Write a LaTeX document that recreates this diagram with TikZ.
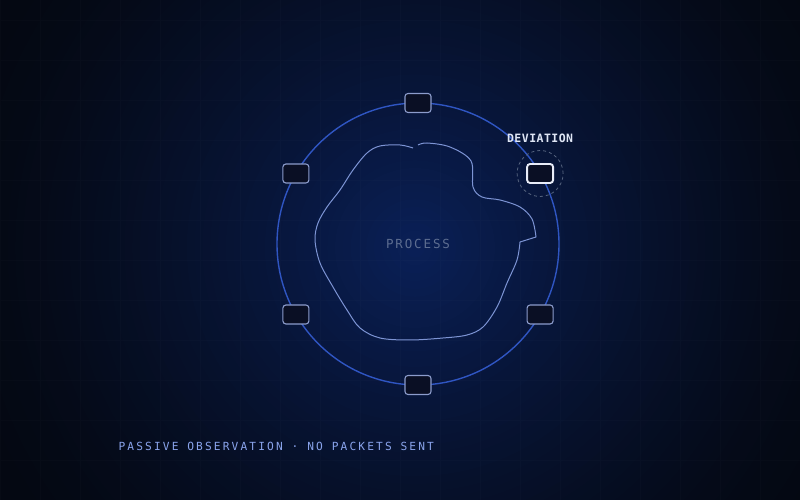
\documentclass[tikz,border=0pt]{standalone}
\usepackage{fontspec}
\setmonofont{DejaVu Sans Mono}
\newfontfamily\labfont[LetterSpace=15]{DejaVu Sans Mono}
\newfontfamily\notefont[LetterSpace=19]{DejaVu Sans Mono}
\newfontfamily\devfont[LetterSpace=4]{DejaVu Sans Mono}
\usepackage{tikz}
\usetikzlibrary{calc}
\usetikzlibrary{positioning}
\definecolor{glowin}{HTML}{0A2058}
\definecolor{glowout}{HTML}{040812}
\definecolor{ringcol}{HTML}{2F55C2}
\definecolor{boxfill}{HTML}{0A0F24}
\definecolor{boxline}{HTML}{8C9CCC}
\definecolor{alertline}{HTML}{E8ECF8}
\definecolor{blobcol}{HTML}{7D94D4}
\definecolor{dimtext}{HTML}{5D6D90}
\definecolor{notetext}{HTML}{8AA4EC}
\definecolor{devtext}{HTML}{DFE6F5}
\definecolor{halocol}{HTML}{56647F}

\begin{document}
\begin{tikzpicture}[
x=1pt,y=1pt,
Ring/.style={draw=ringcol,line width=1.4pt},
Sensor/.style={draw=boxline,fill=boxfill,line width=1.1pt,rounded corners=3pt,minimum width=26pt,minimum height=19pt,inner sep=0pt},
SensorAlert/.style={Sensor,draw=alertline,line width=1.9pt},
Halo/.style={draw=halocol,line width=0.8pt,dash pattern=on 3pt off 3pt},
BlobLine/.style={draw=blobcol,line width=1pt,line join=round},
every node/.style={text=dimtext}
]
\useasboundingbox (0,0) rectangle (800,500);

% background glow
\fill[glowout] (0,0) rectangle (800,500);
\coordinate (G) at (415,252);
\foreach \i in {0,...,59}{
 \pgfmathsetmacro\rr{470-\i*7.8}
 \pgfmathsetmacro\pp{100*(1-\rr/470)^1.4}
 \fill[glowin!\pp!glowout] (G) circle (\rr);
}
\draw[white,opacity=0.015,line width=0.6pt,step=40] (0,0) grid (800,500);

\coordinate (C) at (418,256);

\draw[Ring] (C) circle (141);

% process outline
\draw[BlobLine] plot[smooth,tension=0.55] coordinates {(418,355) (427,357) (450,353) (471,339) (473,313) (482,303) (500,300) (520,293) (532,281) (536,263)}
 -- plot[smooth,tension=0.55] coordinates {(520,258) (517,240) (507,217) (497,193) (483,173) (467,165) (443,162) (410,160) (380,162) (360,172) (347,190) (333,213) (320,237) (315,260) (318,277) (327,293) (340,310) (353,330) (367,347) (380,354) (400,355) (413,352)};

\node[font=\labfont\fontsize{12.5}{14}\selectfont] (proc) at (C) {PROCESS};

% sensors
\foreach \a/\n in {90/top,150/ul,210/ll,330/lr,270/bot}
 \node[Sensor] (s\n) at ([shift={(\a:141)}]C) {};

\node[SensorAlert] (sur) at ([shift={(30:141)}]C) {};
\draw[Halo] (sur.center) circle (23);
\node[text=devtext,font=\devfont\bfseries\fontsize{11.5}{13}\selectfont,above=17pt of sur.north] (dev) {DEVIATION};

\node[anchor=west,text=notetext,font=\notefont\fontsize{11.2}{13}\selectfont] (note) at (115,54) {PASSIVE OBSERVATION · NO PACKETS SENT};
\end{tikzpicture}
\end{document}
